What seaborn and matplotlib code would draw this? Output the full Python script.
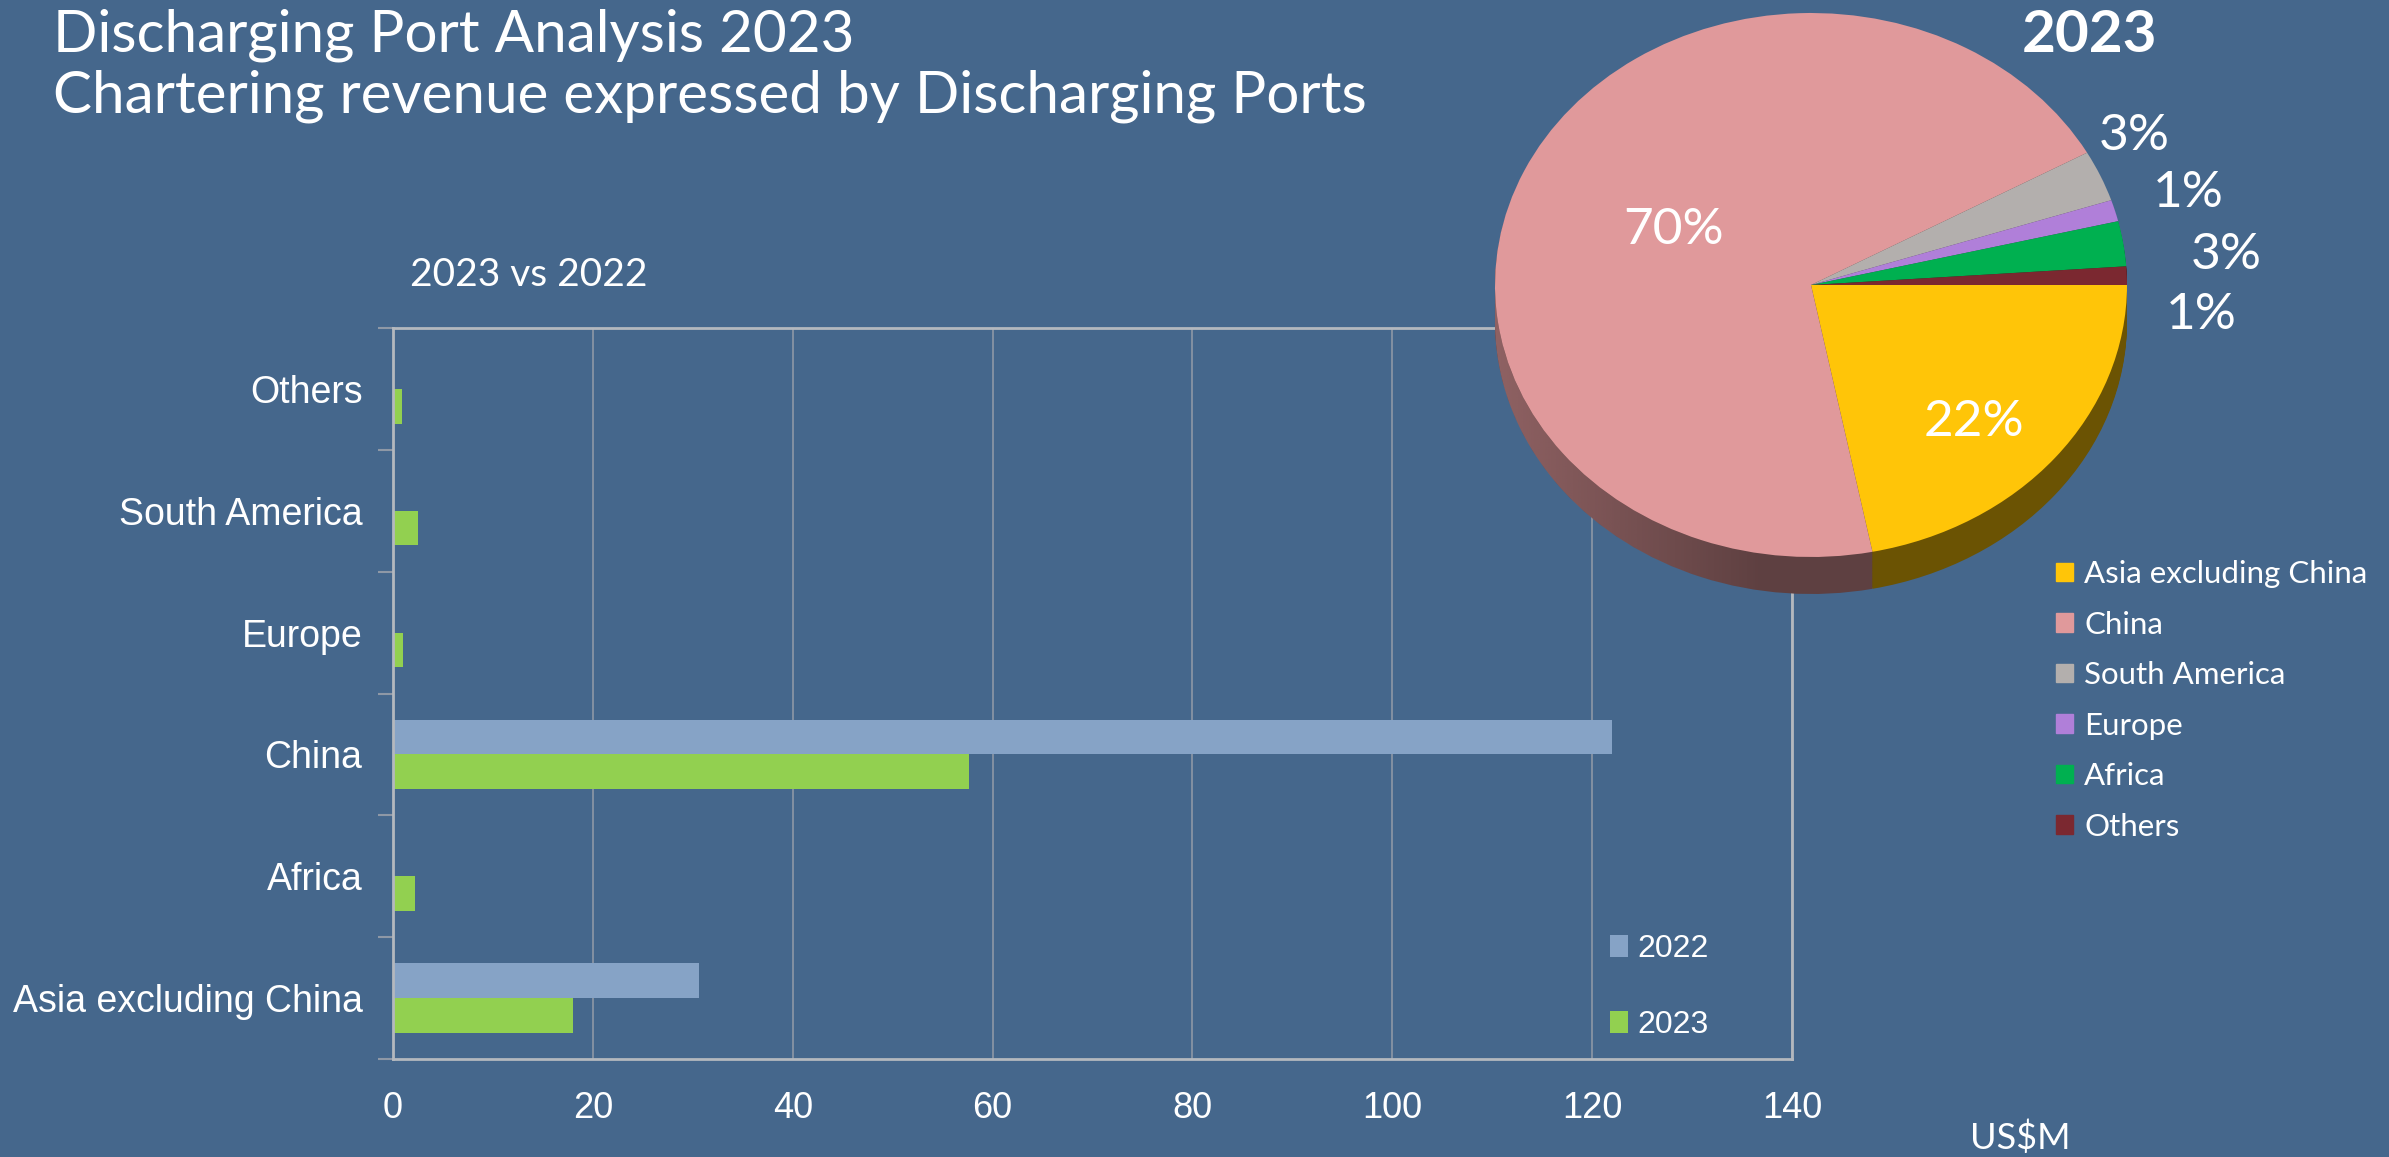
import numpy as np
import pandas as pd
import matplotlib
matplotlib.use("Agg")
import matplotlib.pyplot as plt
from matplotlib.patches import Patch, Polygon
from matplotlib.ticker import FixedLocator
import seaborn as sns

# Data (US$M)

categories = ["Others", "South America", "Europe", "China", "Africa", "Asia excluding China"]
years = ["2022", "2023"]
rev_2022 = [0, 0, 0, 122, 0, 30.6]
rev_2023 = [0.9, 2.5, 1.05, 57.6, 2.2, 18]

pie_order = ["Asia excluding China", "China", "South America", "Europe", "Africa", "Others"]
x_ticks = [0, 20, 40, 60, 80, 100, 120, 140]

# Style

W, H = 2389, 1157
BG = "#45678C"
BAR_COLORS = {"2022": "#86A3C6", "2023": "#92D050"}
PIE_COLORS = ["#FFC508", "#E0999B", "#B3AFAD", "#B07FD9", "#00B050", "#7B2830"]
GRID = "#8E98A6"
SPINE = "#B4B8BE"

sns.set_theme(style="white")
plt.rcParams["font.family"] = ["Liberation Sans", "DejaVu Sans"]


def px_rect(x0, y0, x1, y1):
    return [x0 / W, 1 - y1 / H, (x1 - x0) / W, (y1 - y0) / H]


fig = plt.figure(figsize=(W / 100, H / 100), dpi=100)
fig.patch.set_facecolor(BG)

# Bar chart

ax = fig.add_axes(px_rect(393, 328, 1792, 1059))
ax.set_facecolor(BG)

df = pd.DataFrame({
    "region": categories * 2,
    "year": [years[0]] * len(categories) + [years[1]] * len(categories),
    "value": rev_2022 + rev_2023,
})
sns.barplot(data=df, y="region", x="value", hue="year", order=categories,
            hue_order=years, palette=BAR_COLORS, orient="h", width=0.57,
            saturation=1, linewidth=0, ax=ax)

ax.set_xlim(0, 140)
ax.set_xticks(x_ticks)
ax.set_xlabel("")
ax.set_ylabel("")
ax.xaxis.grid(True, color=GRID, linewidth=1.2)
ax.yaxis.grid(False)
ax.set_axisbelow(True)
for s in ax.spines.values():
    s.set_visible(True)
    s.set_color(SPINE)
    s.set_linewidth(2)

ax.tick_params(axis="x", length=0, pad=23, labelsize=26, labelcolor="white")
ax.tick_params(axis="y", which="major", length=0, pad=22, labelsize=27, labelcolor="white")
ax.yaxis.set_minor_locator(FixedLocator(np.arange(-0.5, len(categories), 1.0)))
ax.tick_params(axis="y", which="minor", left=True, length=11, width=1.5, color=GRID)

handles, labels = ax.get_legend_handles_labels()
ax.legend(handles, labels, loc="upper left", bbox_to_anchor=(1610 / W, 1 - 934 / H),
          bbox_transform=fig.transFigure, frameon=False, fontsize=23,
          labelcolor="white", handlelength=0.55, handleheight=0.7,
          handletextpad=0.3, labelspacing=1.45, borderpad=0, borderaxespad=0)

# Pie chart (tilted, with a dark side)

cx, cy, rx, ry, depth = 1811, 285, 316, 272, 37
pie_x0, pie_x1, pie_y0, pie_y1 = 1450, W, 0, 720
pax = fig.add_axes(px_rect(pie_x0, pie_y0, pie_x1, pie_y1))
pax.set_zorder(3)
pax.patch.set_alpha(0)

lookup = dict(zip(categories, rev_2023))
pie_values = [lookup[c] for c in pie_order]
total = sum(pie_values)
dz = depth / ry

side_colors = [tuple(0.42 * c for c in matplotlib.colors.to_rgb(col)) for col in PIE_COLORS]
for d in np.linspace(dz, 0, 25)[:-1]:
    pax.pie(pie_values, colors=side_colors, startangle=0, counterclock=False,
            center=(0, -d), radius=1, wedgeprops=dict(linewidth=0))

# lighter sheen on the left part of the side
t = np.linspace(np.pi, 2 * np.pi, 200)
band = np.vstack([np.column_stack([np.cos(t), np.sin(t) - dz]),
                  np.column_stack([np.cos(t[::-1]), np.sin(t[::-1])])])
band_patch = Polygon(band, closed=True, transform=pax.transData, facecolor="none", edgecolor="none")
pax.add_patch(band_patch)
xs = np.linspace(-1, 1, 400)
alpha = np.clip((-0.15 - xs) / 0.85, 0, 1) * 0.38
sheen = np.zeros((2, xs.size, 4))
sheen[..., :3] = matplotlib.colors.to_rgb(PIE_COLORS[1])
sheen[..., 3] = alpha
img = pax.imshow(sheen, extent=(-1, 1, -1 - dz, 0), aspect="auto", zorder=1.5, interpolation="bilinear")
img.set_clip_path(band_patch)

wedges, _ = pax.pie(pie_values, colors=PIE_COLORS, startangle=0, counterclock=False,
                    center=(0, 0), radius=1, wedgeprops=dict(linewidth=0, zorder=2))

pax.set_aspect("auto")
pax.set_xlim(-(cx - pie_x0) / rx, (pie_x1 - cx) / rx)
pax.set_ylim(-(pie_y1 - cy) / ry, (cy - pie_y0) / ry)
pax.axis("off")

label_dist = [0.72, 0.48, 1.16, 1.24, 1.32, 1.24]
label_shift = [-5, 0, 4.5, 0, -4, -7]
for w, v, r, sh in zip(wedges, pie_values, label_dist, label_shift):
    ang = np.deg2rad((w.theta1 + w.theta2) / 2 + sh)
    pax.text(r * np.cos(ang), r * np.sin(ang), f"{v / total * 100:.0f}%",
             ha="center", va="center", color="white", fontsize=37, family="Lato", zorder=4)

fig.text(2089 / W, 1 - 36 / H, "2023", ha="center", va="center", color="white",
         fontsize=42, fontweight="bold", family="Lato")

fig.legend([Patch(color=c) for c in PIE_COLORS], pie_order, loc="upper left",
           bbox_to_anchor=(2056 / W, 1 - 560 / H), frameon=False,
           labelcolor="white", handlelength=0.55, handleheight=0.55,
           handletextpad=0.35, labelspacing=0.72, borderpad=0, borderaxespad=0,
           prop={"family": "Lato", "size": 22.5})

# Titles and notes

fig.text(53 / W, 1 - 8 / H, "Discharging Port Analysis 2023\nChartering revenue expressed by Discharging Ports",
         ha="left", va="top", color="white", fontsize=42, family="Lato", linespacing=1.18)
fig.text(410 / W, 1 - 275 / H, "2023 vs 2022", ha="left", va="center", color="white",
         fontsize=28, family="Lato")
fig.text(1970 / W, 1 - 1138 / H, "US$M", ha="left", va="center", color="white",
         fontsize=26, family="Lato")

fig.savefig("out.png", dpi=100, facecolor=BG)
